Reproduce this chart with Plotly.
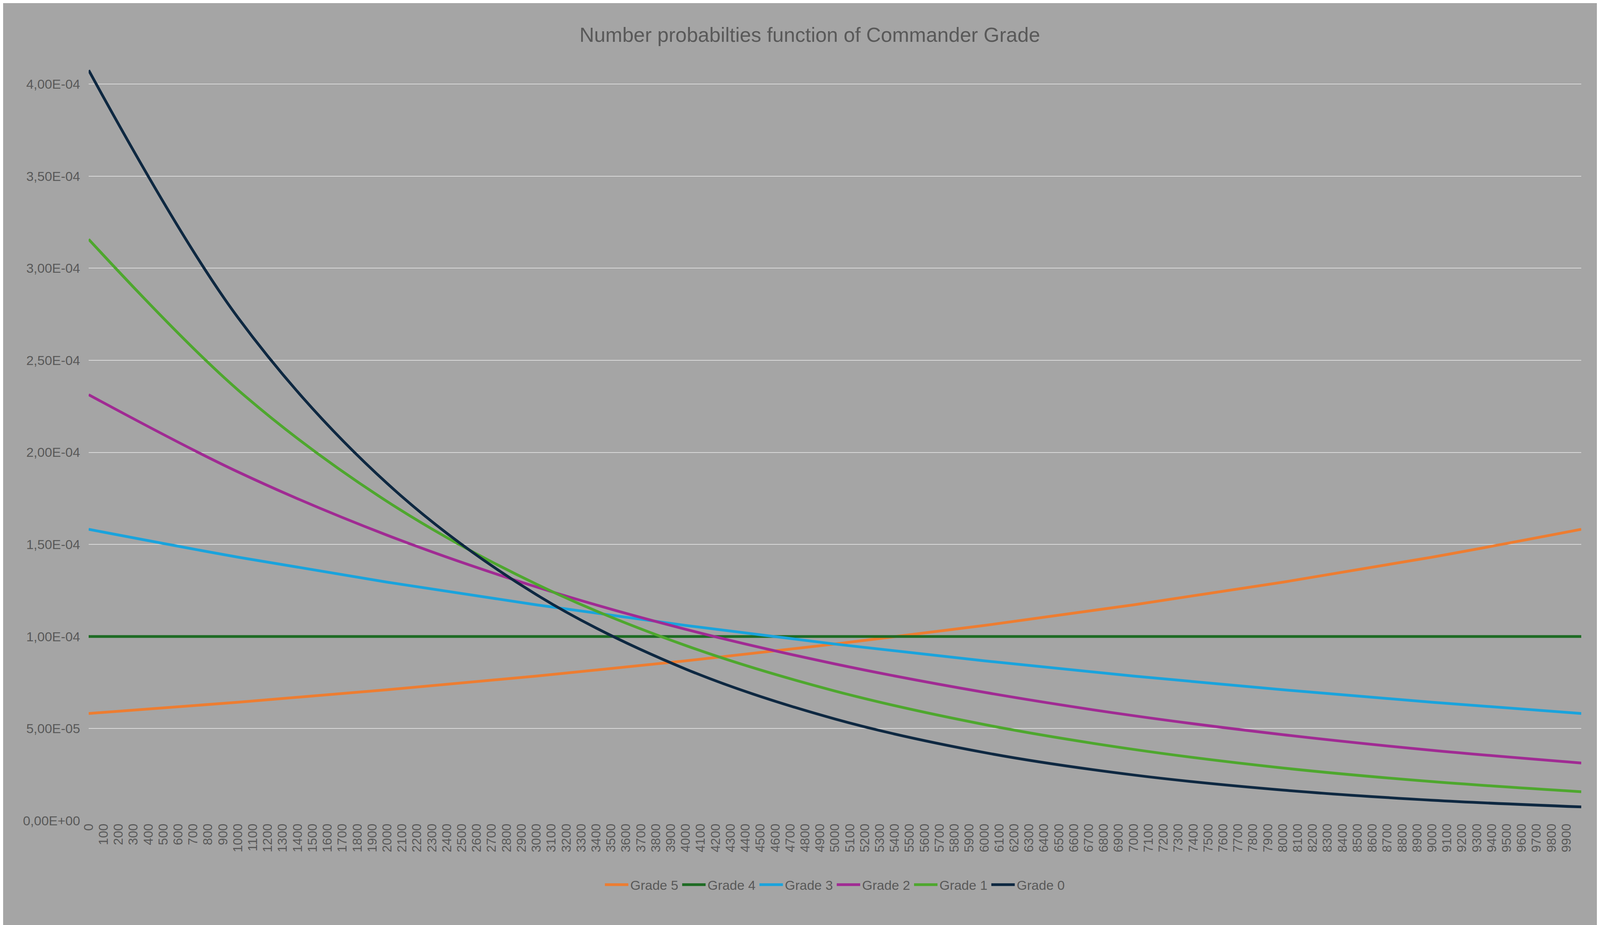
import plotly.graph_objects as go

x = [0, 1000, 2000, 3000, 4000, 5000, 6000, 7000, 8000, 9000, 9999]
grade5 = [0.582e-4, 0.643e-4, 0.711e-4, 0.785e-4, 0.868e-4, 0.959e-4, 1.060e-4, 1.172e-4, 1.295e-4, 1.431e-4, 1.582e-4]
grade4 = [1.0e-4] * 11
grade3 = [1.582e-4, 1.431e-4, 1.295e-4, 1.172e-4, 1.060e-4, 0.959e-4, 0.868e-4, 0.785e-4, 0.711e-4, 0.643e-4, 0.582e-4]
grade2 = [2.313e-4, 1.894e-4, 1.550e-4, 1.269e-4, 1.039e-4, 0.851e-4, 0.697e-4, 0.570e-4, 0.467e-4, 0.382e-4, 0.313e-4]
grade1 = [3.157e-4, 2.339e-4, 1.733e-4, 1.284e-4, 0.951e-4, 0.704e-4, 0.522e-4, 0.387e-4, 0.286e-4, 0.212e-4, 0.157e-4]
grade0 = [4.075e-4, 2.732e-4, 1.831e-4, 1.227e-4, 0.823e-4, 0.552e-4, 0.370e-4, 0.248e-4, 0.166e-4, 0.111e-4, 0.0746e-4]

series = [("Grade 5", grade5, "#ED7D31"), ("Grade 4", grade4, "#1E6B24"),
          ("Grade 3", grade3, "#1AA3DC"), ("Grade 2", grade2, "#A02B93"),
          ("Grade 1", grade1, "#4EA72E"), ("Grade 0", grade0, "#0E2841")]

xticks = list(range(0, 10000, 100))
yticks = [i * 0.5e-4 for i in range(9)]
yticktext = ["0,00E+00", "5,00E-05", "1,00E-04", "1,50E-04", "2,00E-04", "2,50E-04", "3,00E-04", "3,50E-04", "4,00E-04"]

fig = go.Figure()
for name, ys, c in series:
    fig.add_trace(go.Scatter(x=x, y=ys, name=name, mode="lines",
                             line=dict(color=c, width=7, shape="spline")))

fig.update_layout(
    width=4130, height=2367,
    paper_bgcolor="#A5A5A5", plot_bgcolor="#A5A5A5",
    font=dict(family="Liberation Sans, Arial", color="#595959", size=34),
    title=dict(text="Number probabilties function of Commander Grade", x=0.5, xanchor="center",
               y=0.966, yanchor="middle", font=dict(size=52, color="#595959")),
    margin=dict(l=219, r=90, t=160, b=275),
    legend=dict(orientation="h", x=0.5, xanchor="center", y=-0.085, yanchor="middle",
                font=dict(size=34, color="#595959"), itemwidth=60, tracegroupgap=0),
    showlegend=True,
)
fig.update_xaxes(range=[0, 9999], tickvals=xticks, ticktext=[str(v) for v in xticks],
                 tickangle=-90, showgrid=False, zeroline=False, showline=False,
                 tickfont=dict(size=33))
fig.update_yaxes(range=[0, 4.1e-4], tickvals=yticks, ticktext=yticktext,
                 showgrid=True, gridcolor="#D9D9D9", gridwidth=2, zeroline=False,
                 tickfont=dict(size=34), ticks="outside", tickcolor="rgba(0,0,0,0)", ticklen=14)
fig.write_html("out.html")
